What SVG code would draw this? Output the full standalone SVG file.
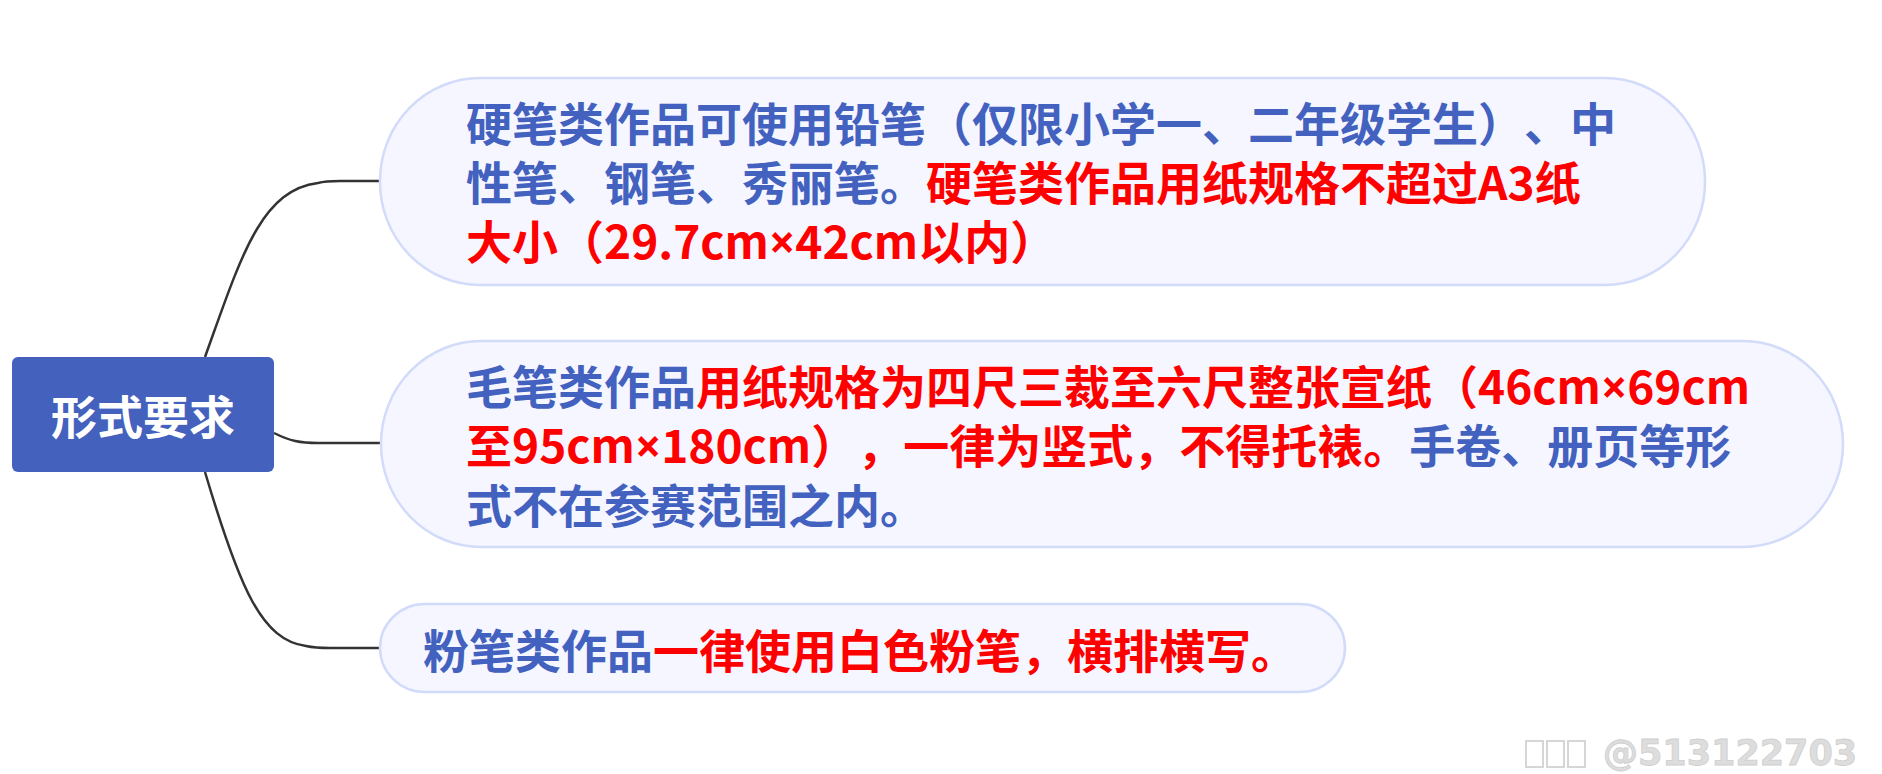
<svg xmlns="http://www.w3.org/2000/svg" width="1882" height="774" viewBox="0 0 1882 774">
<style>
.t{font-family:"Noto Sans CJK SC","Noto Sans",sans-serif;font-weight:bold;font-size:46px;text-spacing-trim:space-all}
.b{fill:#4361BE}
.r{fill:#FF0000}
.x{font-family:"Noto Sans",sans-serif}
.node{fill:#F5F6FF;stroke:#D3DBFA;stroke-width:2.5}
.conn{fill:none;stroke:#333333;stroke-width:2.5}
</style>
<rect width="1882" height="774" fill="#FFFFFF"/>
<g id="connectors">
<path class="conn" d="M205,357 C240,260 260,190 318,183 Q325,181 340,181 L381,181"/>
<path class="conn" d="M274,433 C290,441 300,443 318,443 L381,443"/>
<path class="conn" d="M205,472 C240,590 262,640 306,646 Q315,648 330,648 L381,648"/>
</g>
<g id="root">
<rect x="12" y="357" width="262" height="115" rx="6" fill="#4361BD"/>
<text class="t" x="143" y="434" text-anchor="middle" fill="#FFFFFF">形式要求</text>
</g>
<g id="node1">
<rect class="node" x="380" y="78" width="1325" height="207" rx="100" ry="103"/>
<text class="t" x="466" y="141"><tspan class="b">硬笔类作品可使用铅笔（仅限小学一、二年级学生）、中</tspan></text>
<text class="t" x="466" y="200"><tspan class="b">性笔、钢笔、秀丽笔。</tspan><tspan class="r">硬笔类作品用纸规格不超过A3纸</tspan></text>
<text class="t" x="466" y="259"><tspan class="r">大小（29.7cm<tspan class="x">×</tspan>42cm以内）</tspan></text>
</g>
<g id="node2">
<rect class="node" x="381" y="341" width="1462" height="206" rx="100" ry="103"/>
<text class="t" x="466" y="404"><tspan class="b">毛笔类作品</tspan><tspan class="r">用纸规格为四尺三裁至六尺整张宣纸（46cm<tspan class="x">×</tspan>69cm</tspan></text>
<text class="t" x="466" y="463"><tspan class="r">至95cm<tspan class="x">×</tspan>180cm），一律为竖式，不得托裱。</tspan><tspan class="b">手卷、册页等形</tspan></text>
<text class="t" x="466" y="523"><tspan class="b">式不在参赛范围之内。</tspan></text>
</g>
<g id="node3">
<rect class="node" x="380" y="604" width="965" height="88" rx="45" ry="44"/>
<text class="t" x="423" y="668"><tspan class="b">粉笔类作品</tspan><tspan class="r">一律使用白色粉笔，横排横写。</tspan></text>
</g>
<g id="watermark" fill="none" stroke="#D6D6D6" stroke-width="2">
<rect x="1526" y="741" width="17" height="26"/>
<rect x="1547" y="741" width="17" height="26"/>
<rect x="1568" y="741" width="17" height="26"/>
<text x="1603" y="765" font-family="DejaVu Sans, sans-serif" font-weight="bold" font-size="35" fill="#DDDDDD" stroke="#CFCFCF" stroke-width="0.8">@513122703</text>
</g>
</svg>
